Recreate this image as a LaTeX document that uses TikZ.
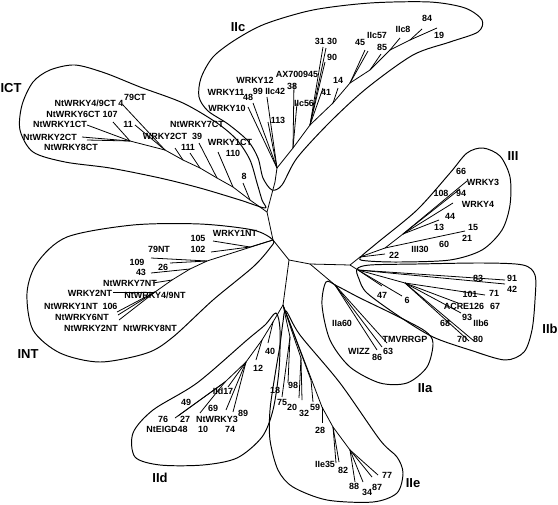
\documentclass[tikz,border=0pt]{standalone}
\usepackage{fontspec}
\setmainfont{Liberation Sans}
\tikzset{
  branch/.style={line width=0.45pt},
  hull/.style={line width=0.55pt},
  leaf/.style={font=\bfseries\fontsize{5.1}{6}\selectfont,inner sep=0pt},
  group/.style={font=\bfseries\fontsize{7.4}{9}\selectfont,inner sep=0pt}
}
\begin{document}
\begin{tikzpicture}[x=0.02cm,y=-0.02cm]
  \useasboundingbox (0,0) rectangle (558,504);
  \foreach \n/\x/\y in {
   R0/289/260,A/273/240,B/267/212,C/275/182,D/283/305,E/310/264,F/350/265,
   ct1/250/200,ct2/233/187,ct3/217/178,ct4/200/168,ct5/183/160,ct6/165/150,ct7/130/141,
   ic1/277/168,ic2/293/148,ic3/310/125,ic4/333/103,ic5/350/83,ic6/370/70,ic7/390/50,ic8/410/40,
   ir0/360/257,ir1/385/248,ir2/403/234,ib0/358/270,ib1/405/283,ia1/335/285,
   in1/250/247,in2/207/261,in3/190/269,in4/172/280,in5/155/292,
   d1/273/322,d2/262/340,d3/246/362,d4/225/382,
   e1/290/337,e2/301/358,e3/311/380,e4/322/407,e5/333/427,e6/350/450} {
    \coordinate (\n) at (\x,\y);
   }
  \foreach \n/\x/\y in {
   tCT8/243/183,tCT110/218/152,tCT39/199/143,tCT111/190/153,tCT2/175/148,tCT79/123/105,
   tCT11/135/125,tCT107/113/122,tCTa/87/125,tCTb/82/137,tCTc/87/140,
   tIC10/248/107,tIC11/253/103,tIC42/267/97,tIC113/268/122,tIC38/294/83,tIC56/297/103,
   tIC31/323/47,tIC30/326/48,tIC90/325/62,tIC41/323/88,tIC14/338/88,tIC45/365/50,
   tIC57/368/51,tIC85/381/54,tIC8/400/38,tIC84/422/29,tIC19/437/28,
   tIII22/385/254,tIII15/465/231,tIII13/439/220,tIII4/453/203,tIII94/460/189,tIII3/467/181,
   tIIb47/382/286,tIIb6/402/296,tIIb83/505/280,tIIb91/505/284,tIIb101/485/295,
   tIIb126/458/303,tIIb93/461/313,tIIb70/469/341,tIIb80/474/341,
   tIIa86/377/350,tIIa63/382/347,tIIa64/387/343,
   tNT1/213/241,tNT102/211/252,tNT79/151/258,tNT26/170/263,tNT43/151/273,tNT7/153/283,
   tNT2/113/292,tNT106/117/312,tNT6/118/315,tNT8/119/320,
   tD40/268/343,tD12/256/360,tD17/228/387,tD3/226/410,tD89/233/412,tD10/200/413,
   tD27/175/418,tD49/178/416,
   tE18/282/397,tE98/288/383,tE32/302/400,tE20/299/398,tE59/313/402,tE28/322/423,
   tE35/336/463,tE82/339/462,tE88/355/482,tE34/363/482,tE87/372/477,tE77/378/475} {
    \coordinate (\n) at (\x,\y);
   }
  \foreach \a/\b in {
   B/A,A/R0,B/C,R0/D,R0/E,E/F,
   B/ct1,ct1/ct2,ct2/ct3,ct3/ct4,ct4/ct5,ct5/ct6,ct6/ct7,ct1/tCT8,ct2/tCT110,ct3/tCT39,
   ct4/tCT111,ct5/tCT2,ct6/tCT79,ct6/tCT11,ct7/tCT107,ct7/tCTa,ct7/tCTb,ct7/tCTc,
   C/ic1,ic1/ic2,ic2/ic3,ic3/ic4,ic4/ic5,ic5/ic6,ic6/ic7,ic7/ic8,ic8/tIC19,ic1/tIC10,
   ic1/tIC11,ic1/tIC42,ic1/tIC113,ic2/tIC38,ic2/tIC56,ic3/tIC31,ic3/tIC30,ic3/tIC90,
   ic3/tIC41,ic4/tIC14,ic5/tIC45,ic5/tIC57,ic6/tIC85,ic7/tIC8,ic8/tIC84,
   F/ir0,ir0/ir1,ir1/ir2,ir0/tIII22,ir1/tIII15,ir2/tIII13,ir2/tIII4,ir2/tIII94,ir2/tIII3,
   F/ib0,ib0/ib1,ib0/tIIb47,ib0/tIIb6,ib0/tIIb83,ib0/tIIb91,ib1/tIIb101,ib1/tIIb126,
   ib1/tIIb93,ib1/tIIb70,ib1/tIIb80,
   E/ia1,ia1/tIIa86,ia1/tIIa63,ia1/tIIa64,
   A/in1,in1/tNT1,in1/tNT102,A/in2,in2/tNT79,in2/tNT26,in2/in3,in3/tNT43,in3/in4,
   in4/tNT7,in4/in5,in5/tNT2,in5/tNT106,in5/tNT6,in5/tNT8,
   D/d1,d1/tD40,d1/d2,d2/tD12,d2/d3,d3/tD17,d3/tD3,d3/tD89,d3/d4,d4/tD10,d4/tD27,d4/tD49,
   D/e1,e1/tE18,e1/tE98,D/e2,e2/tE32,e2/tE20,D/e3,e3/tE59,D/e4,e4/tE28,e4/e5,e5/tE35,
   e5/tE82,e5/e6,e6/tE88,e6/tE34,e6/tE87,e6/tE77} {
    \draw[branch] (\a) -- (\b);
   }
  \foreach \n/\x/\y/\t in {
   lCT8/244/176/8,lCT1/230/142/WRKY1CT,lCT110/233/153/110,lCT7/197/124/NtWRKY7CT,
   lCT2/165/136/WRKY2CT,lCT39/197/136/39,lCT111/188/147/111,lCT4/89/103/{NtWRKY4/9CT 4},
   lCT79/135/97/79CT,lCT6/82/114/{NtWRKY6CT 107},lCT11/128/124/11,lCTa/60/124/NtWRKY1CT,
   lCTb/50/137/NtWRKY2CT,lCTc/71/147/NtWRKY8CT,
   lIC10/227/108/WRKY10,lIC11/226/92/WRKY11,lIC48/248/97/48,lIC12/255/80/WRKY12,
   lIC42/269/91/{99 IIc42},lIC113/278/120/113,lIC38/292/86/38,lICAX/297/74/AX700945,
   lIC56/304/103/IIc56,lIC31/326/41/{31 30},lIC90/332/57/90,lIC41/326/92/41,
   lIC14/338/80/14,lIC45/360/42/45,lIC57/377/35/IIc57,lIC85/382/47/85,lIC8/403/29/IIc8,
   lIC84/427/18/84,lIC19/439/35/19,
   lIII66/461/171/66,lIII3/483/182/WRKY3,lIII108/441/193/108,lIII94/461/193/94,
   lIII4/478/204/WRKY4,lIII44/450/216/44,lIII13/439/227/13,lIII15/473/227/15,
   lIII21/467/238/21,lIII60/444/244/60,lIII30/420/249/III30,lIII22/394/255/22,
   lIIb83/478/278/83,lIIb91/512/278/91,lIIb42/512/289/42,lIIb101/470/294/101,
   lIIb71/494/293/71,lIIb126/464/306/ACRE126,lIIb67/495/306/67,lIIb93/467/317/93,
   lIIb6b/481/323/IIb6,lIIb68/445/323/68,lIIb70/462/339/70,lIIb80/478/339/80,
   lIIb47/382/295/47,lIIb6/407/300/6,
   lIIa60/342/323/IIa60,lIIaTM/405/339/TMVRRGP,lIIaW/359/351/WIZZ,lIIa86/377/357/86,
   lIIa63/388/351/63,
   lNT1/235/233/WRKY1NT,lNT105/198/238/105,lNT102/198/249/102,lNT79/159/249/79NT,
   lNT109/137/262/109,lNT26/163/267/26,lNT43/141/272/43,lNT7/130/283/NtWRKY7NT,
   lNT2/90/293/WRKY2NT,lNT49/155/295/{NtWRKY4/9NT},lNTa/71/306/NtWRKY1NT,
   lNT106/110/306/106,lNTb/82/317/NtWRKY6NT,lNTc/91/328/NtWRKY2NT,lNTd/150/328/NtWRKY8NT,
   lD40/270/351/40,lD12/258/368/12,lD17/223/391/IId17,lD49/186/402/49,lD69/213/408/69,
   lD89/243/413/89,lD3/217/419/NtWRKY3,lD76/163/419/76,lD27/185/419/27,
   lD48/167/429/NtEIGD48,lD10/203/429/10,lD74/230/429/74,
   lE18/275/390/18,lE98/293/385/98,lE75/282/402/75,lE20/292/407/20,lE32/304/413/32,
   lE59/315/407/59,lE28/320/430/28,lE35/325/464/IIe35,lE82/343/470/82,lE88/354/486/88,
   lE34/367/492/34,lE87/377/487/87,lE77/387/475/77} {
    \node[leaf] (\n) at (\x,\y) {\t};
   }
  \foreach \n/\x/\y/\t in {
   gICT/11/88/ICT,gIIc/238/27/IIc,gIII/513/156/III,gIIb/550/329/IIb,gIIa/425/388/IIa,
   gINT/28/354/INT,gIId/160/478/IId,gIIe/413/483/IIe} {
    \node[group] (\n) at (\x,\y) {\t};
   }
  \draw[hull] plot[smooth cycle] coordinates {(265,208) (240,200) (200,188) (160,178)
   (110,168) (65,162) (33,152) (20,130) (22,105) (33,82) (50,70) (75,65) (105,73)
   (140,87) (183,103) (217,123) (237,140) (250,160) (257,183) (262,200)};
  \draw[hull] plot[smooth cycle] coordinates {(272,190) (263,178) (258,158) (248,141)
   (228,124) (208,111) (199,97) (201,78) (213,57) (235,40) (265,24) (313,10) (370,3)
   (430,2) (465,8) (482,20) (478,32) (450,42) (413,55) (367,88) (330,122) (297,158)
   (282,185)};
  \draw[hull] plot[smooth cycle] coordinates {(360,258) (377,243) (417,210) (450,173)
   (467,153) (483,148) (500,156) (510,177) (510,205) (502,230) (482,250) (450,260)
   (400,262) (368,261)};
  \draw[hull] plot[smooth cycle] coordinates {(357,269) (370,265) (417,264) (483,263)
   (523,265) (535,275) (535,300) (532,330) (524,352) (505,360) (470,350) (433,337)
   (400,317) (367,293) (359,279)};
  \draw[hull] plot[smooth cycle] coordinates {(326,282) (322,305) (330,340) (350,367)
   (380,383) (407,383) (427,367) (433,343) (425,331) (395,315) (360,298) (337,286)};
  \draw[hull] plot[smooth cycle] coordinates {(273,240) (253,230) (200,224) (133,225)
   (67,237) (37,263) (27,293) (33,330) (60,353) (100,362) (147,353) (173,337)
   (213,300) (253,267) (270,248)};
  \draw[hull] plot[smooth cycle] coordinates {(276,313) (265,325) (247,340) (197,383)
   (153,410) (133,433) (135,457) (160,465) (203,465) (237,458) (262,437) (273,410)
   (279,370) (280,330)};
  \draw[hull] plot[smooth cycle] coordinates {(286,311) (300,335) (340,383) (380,440)
   (397,457) (403,473) (397,493) (373,502) (327,500) (293,487) (278,470) (270,440)
   (270,410) (275,375) (280,345) (283,322)};
\end{tikzpicture}
\end{document}
